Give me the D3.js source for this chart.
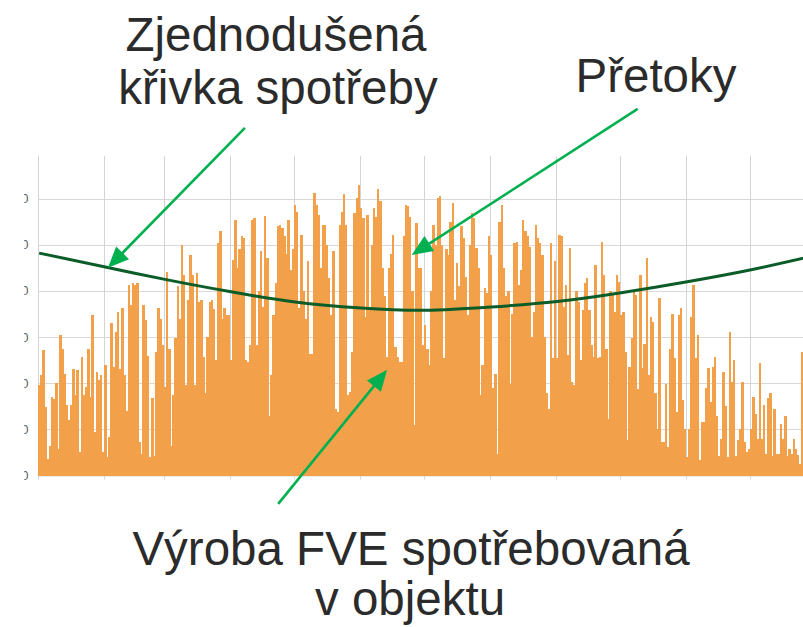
<!DOCTYPE html>
<html>
<head>
<meta charset="utf-8">
<script src="https://cdn.jsdelivr.net/npm/d3@7/dist/d3.min.js"></script>
<style>
  html, body { margin: 0; padding: 0; background: #ffffff; }
  svg { display: block; }
</style>
</head>
<body>
<svg id="chart" width="803" height="627"></svg>
<script>
// Daily PV yield consumed on site, kWh per day, from 1 January onward.
const yieldDays000to043 = [19.6, 21.7, 27.2, 14.9, 3.6, 6.5, 17, 16.5, 20, 5.8, 30.4, 27.5, 22, 15.2, 12, 15.2, 23, 17.4, 22.8, 5, 25.7, 17.4, 19.2, 27.5, 17, 34.8, 9.4, 22.5, 20.7, 21.7, 5, 23.9, 4, 8.3, 33, 23.5, 31, 35.5, 23, 36.2, 21.7, 14, 41.3, 37];
const yieldDays044to088 = [41.7, 41.3, 41.7, 7.2, 4.7, 37, 33.7, 26, 4, 16.7, 4.3, 26.8, 36.2, 34, 28.3, 19.2, 44.2, 27.5, 6.5, 17.4, 29.7, 41, 34, 50, 43.5, 19.6, 38, 47.8, 43.5, 19.6, 43.8, 37.7, 38, 25.7, 17.8, 30, 37.7, 38, 36, 25, 50.4, 52.9, 34, 36.2, 34.8];
const yieldDays089to133 = [34.8, 25, 46.7, 55.4, 45, 49, 51.8, 51.4, 25, 24.6, 28.3, 55.4, 55.8, 28.3, 39.9, 48.6, 36.6, 56.2, 47.1, 13, 21.7, 34.8, 41.7, 54, 54.3, 53.6, 51.8, 48, 55.4, 44.6, 49, 58.7, 57.2, 36.2, 52.2, 40, 34, 46.4, 26.4, 26.4, 61.2, 58.7, 56.5, 45, 54.3];
const yieldDays134to178 = [54.3, 50, 42.8, 34.8, 48.6, 14.5, 13.8, 54.3, 57, 60.9, 54.3, 17.4, 18.1, 26.8, 56.9, 60.1, 63, 58, 55.8, 34.4, 56.5, 35.9, 50, 58, 56, 62, 59.4, 45, 38.8, 25.7, 45, 48, 52.2, 27.9, 25.7, 24.6, 24.6, 52, 58.7, 58.3, 56, 40, 10.9, 54.7, 45];
const yieldDays179to223 = [45, 28.3, 32.6, 27.5, 23.9, 40, 54.3, 50, 60.1, 60.5, 50, 25.4, 49, 47.8, 55, 59, 38, 46, 41, 54, 51.4, 43.1, 34.8, 50, 56.9, 55.8, 49.3, 45, 17.4, 23.9, 40.6, 39.5, 51.8, 47.8, 19, 22, 4.7, 55, 58.7, 45, 38.8, 39.9, 19.9, 35, 50.4];
const yieldDays224to268 = [50.7, 41.3, 44.6, 55.4, 52.9, 51.8, 49.6, 30, 35.5, 54.3, 51.4, 50.4, 47.8, 30, 17.8, 14.5, 50.4, 25.4, 46.4, 25.4, 52.2, 51.8, 36.6, 41.3, 26.1, 49.3, 20.3, 19.6, 39.9, 37.7, 25, 35.9, 41.7, 42.8, 35.9, 28.3, 25.7, 45.7, 25.4, 25.7, 50.7, 43.5, 27.5, 12.3, 39.9];
const yieldDays269to313 = [39.1, 35.5, 43.5, 42, 34.8, 35.5, 26.8, 7.6, 23.5, 29.7, 39.9, 39.1, 18.8, 43.5, 23.2, 28.6, 47.1, 21.7, 34.4, 33.3, 17.8, 10.1, 38.4, 7.2, 7.2, 19.9, 6.2, 27.5, 35.1, 25.4, 13.8, 34.8, 36.2, 16.3, 10.1, 4, 10.1, 34.4, 41.3, 25.4, 30.4, 3.3, 11.6, 11.6, 19];
const yieldDays314to358 = [23.2, 16, 23.5, 25.7, 13, 4.3, 8, 22.5, 15, 4, 31.2, 20.3, 25, 4.3, 7.6, 10.1, 20.3, 7.2, 5, 5.8, 10.1, 17, 13.4, 8, 24.3, 8, 15.2, 4.7, 16.7, 17.8, 4.3, 14.5, 4.7, 4.7, 11.2, 8, 13, 4.3, 5.8, 4.7, 8, 5.8, 4.5, 2.5, 26.8];

// Simplified consumption curve, sampled at the start of each month.
const consumptionDay   = [0, 31, 59, 90, 120, 151, 181, 212, 243, 273, 304, 334, 365];
const consumptionValue = [48.2, 45.2, 42.5, 39.8, 37.6, 36.3, 35.8, 36.5, 37.7, 39.6, 42.0, 44.6, 47.8];

// Axis ticks: month boundaries (day of year) and value gridlines.
const monthStarts = [0, 31, 59, 90, 120, 151, 181, 212, 243, 273, 304, 334, 365];
const yTickValues = [0, 10, 20, 30, 40, 50, 60];
const yTickLabels = ["0", "10", "20", "30", "40", "50", "60"];

const production = [].concat(
  yieldDays000to043, yieldDays044to088, yieldDays089to133, yieldDays134to178,
  yieldDays179to223, yieldDays224to268, yieldDays269to313, yieldDays314to358
);

const svg = d3.select("#chart");
const W = 803, H = 627;
const plotLeft = 38, plotTop = 156, dayWidth = 2.1317;

const x = d3.scaleLinear().domain([0, 365]).range([plotLeft, plotLeft + 365 * dayWidth]);
const y = d3.scaleLinear().domain([0, 70]).range([475.5, 152.5]);

const defs = svg.append("defs");
defs.append("clipPath").attr("id", "plotClip")
  .append("rect").attr("x", plotLeft).attr("y", plotTop)
  .attr("width", W - plotLeft).attr("height", 480 - plotTop);
defs.append("clipPath").attr("id", "labelClip")
  .append("rect").attr("x", 24.3).attr("y", plotTop).attr("width", 14).attr("height", 330);

const grid = svg.append("g");

// horizontal gridlines
grid.selectAll("line.h").data(yTickValues.filter(v => v > 0)).join("line")
  .attr("x1", plotLeft).attr("x2", W)
  .attr("y1", d => Math.round(y(d)) + 0.5).attr("y2", d => Math.round(y(d)) + 0.5)
  .attr("stroke", "#d9d9d9").attr("stroke-width", 1);

// baseline
grid.append("line")
  .attr("x1", plotLeft).attr("x2", W)
  .attr("y1", y(0) + 0.5).attr("y2", y(0) + 0.5)
  .attr("stroke", "#d9d9d9");

// vertical month gridlines (extend a few px below the baseline as ticks)
grid.selectAll("line.v").data(monthStarts).join("line")
  .attr("x1", d => Math.round(x(d)) + 0.5).attr("x2", d => Math.round(x(d)) + 0.5)
  .attr("y1", plotTop).attr("y2", y(0) + 4)
  .attr("stroke", "#d4d4d4").attr("stroke-width", 1);

// y tick labels, cut at the left edge of the view
svg.append("g").attr("clip-path", "url(#labelClip)")
  .selectAll("text").data(yTickValues).join("text")
  .attr("x", 28.4).attr("y", d => y(d) + 4.5)
  .attr("text-anchor", "end")
  .attr("font-family", "Liberation Sans, Arial, sans-serif")
  .attr("font-size", 12.5)
  .attr("fill", "#595959")
  .text((d, i) => yTickLabels[i]);

// production bars
svg.append("g").attr("clip-path", "url(#plotClip)")
  .attr("shape-rendering", "crispEdges")
  .selectAll("rect").data(production).join("rect")
  .attr("x", (d, i) => x(i))
  .attr("width", (d, i) => x(i + 1) - x(i) + 0.4)
  .attr("y", d => y(d))
  .attr("height", d => y(0) - y(d))
  .attr("fill", "#f2a14a");

// consumption curve
const curvePts = consumptionDay.map((d, i) => [d, consumptionValue[i]]);
const line = d3.line()
  .x(d => x(d[0]) + 1.2)
  .y(d => y(d[1]))
  .curve(d3.curveNatural);
svg.append("path")
  .datum(curvePts)
  .attr("d", line)
  .attr("fill", "none")
  .attr("stroke", "#0b5c29")
  .attr("stroke-width", 3);

// annotation arrows: tip in data space, tail as a pixel offset from the tip
const arrows = [
  { day: 32.8, value: 45.0, dx: 137, dy: -140 },
  { day: 175.3, value: 47.8, dx: 226, dy: -146 },
  { day: 163.8, value: 22.9, dx: -109, dy: 134 }
];
const arrowColor = "#00b050";
const headLen = 21, headHalf = 9;
const ag = svg.append("g");
arrows.forEach(a => {
  const tx = x(a.day), ty = y(a.value);
  const sx = tx + a.dx, sy = ty + a.dy;
  const ang = Math.atan2(ty - sy, tx - sx);
  const bx = tx - headLen * Math.cos(ang), by = ty - headLen * Math.sin(ang);
  ag.append("line")
    .attr("x1", sx).attr("y1", sy).attr("x2", bx + 2 * Math.cos(ang)).attr("y2", by + 2 * Math.sin(ang))
    .attr("stroke", arrowColor).attr("stroke-width", 2.6);
  const px = -Math.sin(ang), py = Math.cos(ang);
  ag.append("path")
    .attr("d", d3.line()([
      [tx, ty],
      [bx + headHalf * px, by + headHalf * py],
      [bx - headHalf * px, by - headHalf * py]
    ]) + "Z")
    .attr("fill", arrowColor);
});

// labels
const labels = [
  { text: "Zjednodušená", cx: 276, by: 51 },
  { text: "křivka spotřeby", cx: 278, by: 104 },
  { text: "Přetoky", cx: 656, by: 92 },
  { text: "Výroba FVE spotřebovaná", cx: 411, by: 565 },
  { text: "v objektu", cx: 410, by: 615 }
];
svg.append("g").selectAll("text").data(labels).join("text")
  .attr("x", d => d.cx).attr("y", d => d.by)
  .attr("text-anchor", "middle")
  .attr("font-family", "Liberation Sans, Arial, sans-serif")
  .attr("font-size", 47.5)
  .attr("fill", "#2b2b2b")
  .text(d => d.text);
</script>
</body>
</html>
